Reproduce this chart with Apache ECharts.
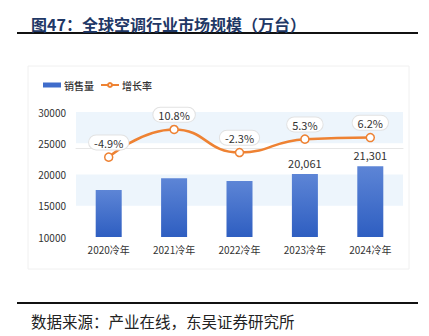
<!DOCTYPE html>
<html>
<head>
<meta charset="utf-8">
<script src="https://cdn.jsdelivr.net/npm/echarts@6/dist/echarts.min.js"></script>
<style>
html,body{margin:0;padding:0;background:#fff;}
#c{width:429px;height:336px;}
</style>
</head>
<body>
<div id="c"></div>
<script>
const categories = ['2020冷年','2021冷年','2022冷年','2023冷年','2024冷年'];
const sales = [17520, 19400, 18970, 20061, 21301];
const salesLabelShown = [false, false, false, true, true];
const growth = [-4.9, 10.8, -2.3, 5.3, 6.2];
const yTicks = [10000, 15000, 20000, 25000, 30000];
const titleText = '图47：全球空调行业市场规模（万台）';
const sourceText = '数据来源：产业在线，东吴证券研究所';

const font = '"Noto Sans CJK SC", "Noto Sans", sans-serif';
const chart = echarts.init(document.getElementById('c'), null, {renderer: 'svg'});

const barData = sales.map((v, i) => ({
  value: v,
  label: {show: salesLabelShown[i]}
}));

chart.setOption({
  backgroundColor: '#fff',
  animation: false,
  textStyle: {fontFamily: font},
  title: [
    {text: titleText, left: 26, top: 11,
     textStyle: {fontSize: 16, fontWeight: 'bold', color: '#1F3866', fontFamily: font}},
    {text: sourceText, left: 26, top: 308,
     textStyle: {fontSize: 15.5, fontWeight: 'normal', color: '#222', fontFamily: font}}
  ],
  graphic: [
    {type: 'line', shape: {x1: 17, y1: 33, x2: 418, y2: 33}, style: {stroke: '#111', lineWidth: 2}, z: 0},
    {type: 'line', shape: {x1: 17, y1: 303, x2: 418, y2: 303}, style: {stroke: '#111', lineWidth: 2}, z: 0},
    {type: 'rect', shape: {x: 28, y: 66, width: 381, height: 203},
     style: {fill: '#fff', stroke: '#f0f0f0', lineWidth: 1}, z: -10}
  ],
  legend: {
    left: 38, top: 75,
    itemGap: 6,
    itemWidth: 18, itemHeight: 5,
    textStyle: {fontSize: 10, color: '#333', fontWeight: 500, padding: [0,0,0,-2]},
    data: [
      {name: '销售量', icon: 'rect', itemStyle: {color: '#3F6CCB'}},
      {name: '增长率'}
    ]
  },
  grid: {left: 76, right: 26, top: 112, bottom: 99, containLabel: false},
  xAxis: {
    type: 'category',
    data: categories,
    axisLine: {lineStyle: {color: '#e6e6e6'}},
    axisTick: {show: false},
    axisLabel: {fontSize: 10, color: '#333', margin: 7}
  },
  yAxis: [
    {
      type: 'value', min: 10000, max: 30000, interval: 5000,
      axisLabel: {fontSize: 10, color: '#333', margin: 10,
        formatter: v => yTicks.includes(v) ? String(v) : ''},
      splitLine: {show: false},
      splitArea: {show: true, areaStyle: {color: ['rgba(255,255,255,0)', '#EDF5FC']}},
      axisLine: {show: false}, axisTick: {show: false}
    },
    {
      type: 'value', min: -50.2, max: 20.7, show: false,
      splitLine: {show: false}
    }
  ],
  series: [
    {
      name: '销售量', type: 'bar', data: barData, barWidth: 26,
      itemStyle: {
        color: new echarts.graphic.LinearGradient(0, 0, 0, 1, [
          {offset: 0, color: '#5D85D6'},
          {offset: 1, color: '#2E5EC1'}
        ])
      },
      label: {position: 'top', distance: 6, fontSize: 11, color: '#333',
        formatter: p => p.value.toLocaleString('en-US')}
    },
    {
      name: '增长率', type: 'line', yAxisIndex: 1, data: growth,
      smooth: true,
      symbol: 'circle', symbolSize: 8,
      lineStyle: {color: '#EE8233', width: 2.5},
      itemStyle: {color: '#fff', borderColor: '#EE8233', borderWidth: 1.5},
      label: {
        show: true, position: 'top', distance: 3,
        formatter: p => p.value.toFixed(1) + '%',
        fontSize: 11, color: '#333',
        backgroundColor: '#fff', borderColor: '#e2e2e2', borderWidth: 1,
        borderRadius: 7, padding: [2, 5, 1, 5]
      }
    }
  ]
});
</script>
</body>
</html>
